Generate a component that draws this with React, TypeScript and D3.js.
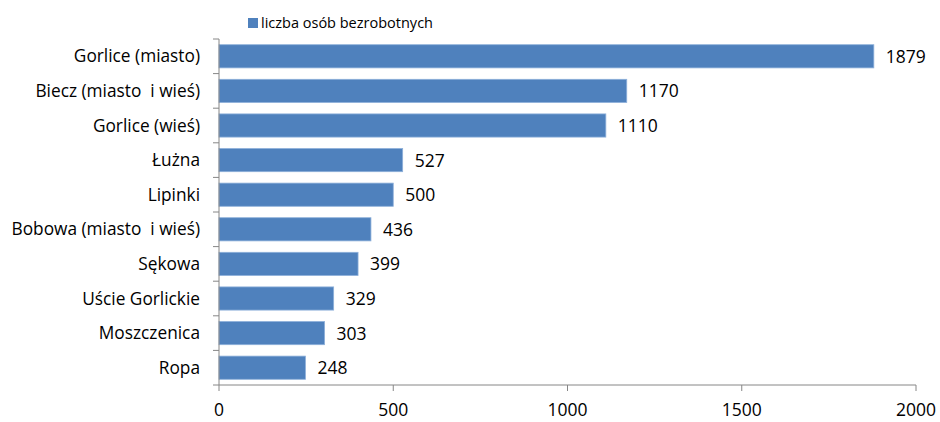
import React from "react";
import * as d3 from "d3";

const categories = [
  "Gorlice (miasto)",
  "Biecz (miasto  i wieś)",
  "Gorlice (wieś)",
  "Łużna",
  "Lipinki",
  "Bobowa (miasto  i wieś)",
  "Sękowa",
  "Uście Gorlickie",
  "Moszczenica",
  "Ropa",
];
const values = [1879, 1170, 1110, 527, 500, 436, 399, 329, 303, 248];
const xTicks = [0, 500, 1000, 1500, 2000];
const seriesName = "liczba osób bezrobotnych";

const W = 940, H = 422;
const left = 219, right = 916, top = 39, bottom = 385;
const FONT = "'Open Sans', sans-serif";

export default function App() {
  const x = d3.scaleLinear().domain([0, 2000]).range([left, right]);
  const y = d3.scaleBand().domain(categories).range([top, bottom]).paddingInner(0.33).paddingOuter(0.165);
  const step = y.step();
  const axisColor = "#868686";
  return (
    <svg width={W} height={H} style={{ position: "absolute", left: 0, top: 0, background: "#fff" }}>
      <rect x={248} y={18} width={10} height={10} fill="#4F81BD" />
      <text x={261} y={28} fontFamily={FONT} fontSize={14.5} fill="#000">{seriesName}</text>
      {categories.map((c, i) => (
        <g key={c}>
          <rect x={x(0)} y={y(c)!} width={x(values[i]) - x(0)} height={y.bandwidth()} fill="#4F81BD" stroke="#8EB0DA" strokeWidth={0.8} />
          <text x={x(values[i]) + 12} y={y(c)! + y.bandwidth() / 2 + 6.5} fontFamily={FONT} fontSize={17.5} fill="#000">{values[i]}</text>
          <text x={x(0) - 19} y={y(c)! + y.bandwidth() / 2 + 6} textAnchor="end" fontFamily={FONT} fontSize={17.3} fill="#000" style={{ whiteSpace: "pre" }}>{c}</text>
        </g>
      ))}
      <line x1={left} x2={left} y1={top} y2={bottom} stroke={axisColor} />
      {d3.range(categories.length + 1).map((i) => (
        <line key={"yt" + i} x1={left - 6} x2={left} y1={top + i * step} y2={top + i * step} stroke={axisColor} />
      ))}
      <line x1={left} x2={right} y1={bottom} y2={bottom} stroke={axisColor} />
      {xTicks.map((t) => (
        <g key={"xt" + t}>
          <line x1={x(t)} x2={x(t)} y1={bottom} y2={bottom + 6} stroke={axisColor} />
          <text x={x(t)} y={bottom + 31} textAnchor="middle" fontFamily={FONT} fontSize={17.5} fill="#000">{t}</text>
        </g>
      ))}
    </svg>
  );
}
